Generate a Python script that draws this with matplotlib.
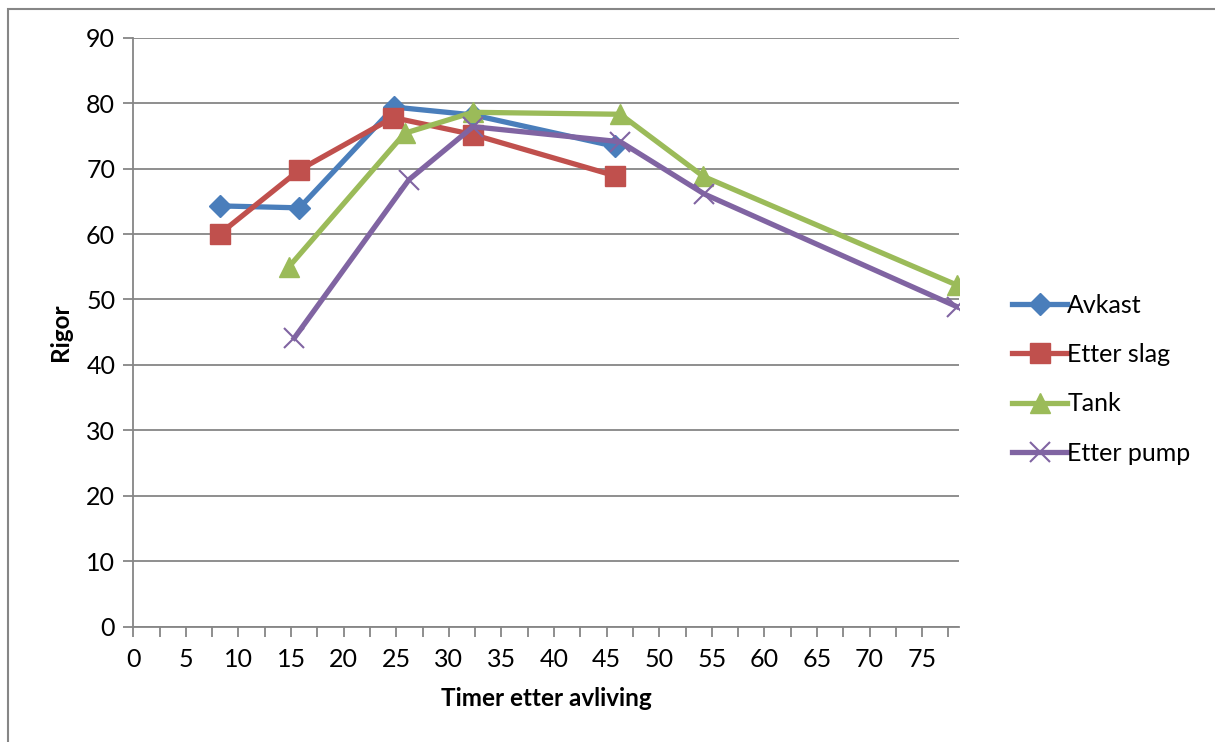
import matplotlib
matplotlib.use("Agg")
import matplotlib.pyplot as plt
from matplotlib.patches import Rectangle
from matplotlib.ticker import MultipleLocator

plt.rcParams['font.family'] = ['Lato', 'DejaVu Sans']

# Data (hours after slaughter, rigor index)
avkast_x = [8.2, 15.8, 24.8, 32.3, 45.8]
avkast_y = [64.3, 64.0, 79.4, 78.2, 73.4]

slag_x = [8.2, 15.8, 24.7, 32.3, 45.8]
slag_y = [60.0, 69.8, 77.8, 75.2, 68.9]

tank_x = [14.8, 25.8, 32.3, 46.3, 54.2, 78.3]
tank_y = [55.0, 75.4, 78.6, 78.3, 68.8, 52.2]

pump_x = [15.3, 26.2, 32.3, 46.3, 54.3, 78.3]
pump_y = [44.1, 68.3, 76.4, 74.1, 66.1, 48.9]

series_names = ["Avkast", "Etter slag", "Tank", "Etter pump"]
colors = ["#4A7EBB", "#C0504D", "#9BBB59", "#8064A2"]
x_label = "Timer etter avliving"
y_label = "Rigor"

W, H = 1215, 742
fig = plt.figure(figsize=(W / 100, H / 100), dpi=100)
left, right, top, bottom = 133.3, 959, 37.7, 626.7
ax = fig.add_axes([left / W, 1 - bottom / H, (right - left) / W, (bottom - top) / H])

lw = 3.8
ax.plot(avkast_x, avkast_y, color=colors[0], lw=lw, marker='D', ms=11.5,
        label=series_names[0], zorder=3)
ax.plot(slag_x, slag_y, color=colors[1], lw=lw, marker='s', ms=14,
        label=series_names[1], zorder=3)
ax.plot(tank_x, tank_y, color=colors[2], lw=lw, marker='^', ms=14.5,
        label=series_names[2], zorder=3)
ax.plot(pump_x, pump_y, color=colors[3], lw=lw, marker='x', ms=14, mew=1.5,
        label=series_names[3], zorder=3)

ax.set_xlim(0, 78.5)
ax.set_ylim(0, 90)
ax.xaxis.set_major_locator(MultipleLocator(5))
ax.xaxis.set_minor_locator(MultipleLocator(2.5))
ax.yaxis.set_major_locator(MultipleLocator(10))

gray = "#868686"
ax.grid(axis='y', color=gray, lw=1.3)
ax.set_axisbelow(True)
for s in ['top', 'right']:
    ax.spines[s].set_visible(False)
for s in ['left', 'bottom']:
    ax.spines[s].set_color(gray)
    ax.spines[s].set_linewidth(1.3)

ax.tick_params(axis='both', which='both', direction='out', color=gray, width=1.3,
               length=7, labelsize=18, labelcolor='black')
ax.tick_params(axis='x', pad=8)
ax.tick_params(axis='y', pad=6)

ax.set_xlabel(x_label, fontsize=17.5, fontweight='bold', labelpad=12)
ax.set_ylabel(y_label, fontsize=17.5, fontweight='bold', labelpad=10)

ax.legend(loc='center left', bbox_to_anchor=(1.0525, 0.42), frameon=False,
          fontsize=18, handlelength=2.2, handletextpad=0.0, labelspacing=1.05,
          borderaxespad=0)

fig.add_artist(Rectangle((8 / W, -0.05), 1.2, 1.05 - 8.5 / H, transform=fig.transFigure,
                         fill=False, edgecolor=gray, lw=1.5))

fig.savefig("out.png", dpi=100)
